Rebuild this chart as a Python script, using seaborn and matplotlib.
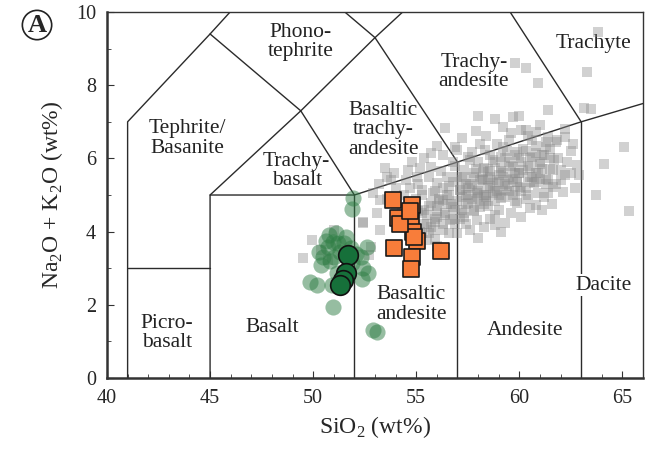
import numpy as np
import pandas as pd
import seaborn as sns
import matplotlib.pyplot as plt

# gray field samples (literature compilation)
gray_x = [63.8, 63.3, 59.8, 60.3, 60.9, 61.4, 63.15, 63.5, 58.0, 58.8, 59.7, 60.0, 56.4, 65.1, 64.1, 63.7, 65.3,
          60.3, 60.8, 61.8, 62.2, 61.3, 61.4, 61.85, 60.1,
          57.0, 57.7, 58.35, 55.7, 56.3, 59.2, 59.9, 60.5, 59.1, 58.6,
          62.8, 62.9, 62.2, 62.7, 62.1, 61.1, 60.8, 59.9, 59.3, 58.8, 58.8, 58.3, 61.65, 61.4, 60.7, 60.9, 61.65,
          60.2, 59.7, 59.4, 58.7, 60.05, 58.25, 58.4, 59.1, 59.7, 60.4, 62.0, 62.5,
          53.5, 53.6, 54.6, 55.2, 55.7, 54.7, 55.3, 56.0, 56.5, 57.3, 57.8, 58.25, 57.1, 57.96, 55.7, 56.3, 56.8,
          57.5, 58.1, 55.3, 56.0, 56.65, 57.3, 57.96, 55.7, 56.3, 57.0, 57.6, 53.25, 53.1, 52.4, 55.5, 58.0, 55.05,
          52.4, 51.0, 49.95, 49.5, 50.7, 52.8, 52.7, 53.25, 50.4,
          58.5, 59.0, 59.5, 60.0, 60.5, 58.0, 57.5, 58.8, 59.3, 60.2, 61.0, 61.2, 57.0, 56.5, 56.0, 57.2, 58.5,
          59.6, 60.3, 61.5, 54.0, 54.4, 55.0, 55.6, 56.8, 57.6, 58.9, 59.5, 60.6, 54.3, 55.5, 56.9, 53.8, 61.9,
          62.5, 61.0,
          55.2, 55.9, 56.4, 57.1, 57.8, 58.4, 59.0, 59.8, 60.5, 61.2, 61.8,
          55.4, 56.1, 56.7, 57.4, 58.0, 58.6, 59.2, 59.9, 60.6, 61.3, 62.0,
          55.1, 55.9, 56.6, 57.2, 57.9, 58.5, 59.1, 59.8, 60.4, 61.1, 61.7,
          54.8, 55.4, 56.2, 56.9, 57.5, 58.1, 58.7, 59.4, 60.0, 60.8, 61.5,
          56.0, 57.2, 58.4, 59.6, 60.4,
          55.9, 56.6, 57.4, 58.6, 59.1, 60.1, 61.6,
          53.6, 54.0, 54.5, 55.1, 53.9, 52.9, 53.2, 55.6, 56.0,
          57.7, 58.3, 58.9, 59.5, 60.1, 60.8, 61.4, 62.3, 62.6, 62.2, 61.0, 59.2, 57.9, 56.9,
          55.3, 55.8, 56.3, 56.8, 57.3, 57.8, 58.3, 58.8, 59.3, 59.8, 60.3, 60.8, 61.3,
          55.5, 56.0, 56.5, 57.0, 57.5, 58.0, 58.5, 59.0, 59.5, 60.0, 60.5, 61.0, 61.5,
          55.3, 55.8, 56.3, 56.8, 57.3, 57.8, 58.3, 58.8, 59.3, 59.8, 60.3, 60.8, 61.3,
          55.6, 56.1, 56.6, 57.1, 57.6, 58.1, 58.6, 59.1, 59.6, 60.1, 60.6, 61.1,
          55.4, 55.9, 56.4, 56.9, 57.4, 57.9, 58.4, 58.9, 59.4, 59.9, 60.4, 60.9,
          57.2, 57.7, 58.2, 58.7, 59.2, 59.7, 58.0, 58.6, 59.0, 57.4]
gray_y = [9.45, 8.36, 8.6, 8.47, 8.06, 7.32, 7.38, 7.35, 7.16, 7.08, 7.13, 7.16, 6.83, 6.3, 5.85, 5.0, 4.56,
          6.78, 6.72, 6.45, 6.58, 6.3, 6.58, 6.5, 6.78,
          6.23, 6.17, 6.23, 6.15, 6.09, 6.31, 6.17, 6.01, 6.04, 6.09,
          5.82, 5.55, 5.55, 5.19, 5.08, 4.59, 4.73, 4.78, 4.23, 4.18, 4.45, 4.13, 5.68, 5.41, 5.33, 5.05, 5.22,
          5.68, 5.77, 5.41, 5.33, 5.22, 5.41, 4.95, 4.92, 5.0, 5.0, 5.68, 5.6,
          5.74, 5.49, 5.68, 5.74, 5.77, 5.19, 5.14, 5.33, 5.49, 5.68, 5.49, 5.63, 5.14, 5.05, 4.78, 4.86, 4.67,
          4.78, 4.67, 4.51, 4.4, 4.32, 4.4, 4.32, 4.13, 4.04, 3.96, 4.04, 4.86, 4.51, 4.23, 3.77, 3.83, 5.49,
          4.26, 4.04, 3.77, 3.28, 3.22, 3.58, 3.36, 4.04, 3.5,
          5.7, 5.55, 5.9, 5.6, 5.35, 5.9, 5.2, 5.1, 5.3, 6.25, 5.9, 6.1, 5.5, 5.0, 4.7, 4.6, 4.7,
          4.5, 4.9, 5.7, 5.2, 5.0, 4.9, 5.5, 5.9, 5.95, 6.4, 6.5, 6.5, 4.6, 4.2, 4.2, 5.4, 6.0,
          6.2, 5.45,
          4.0, 4.25, 4.5, 4.35, 4.55, 4.85, 4.6, 4.85, 4.65, 4.95, 5.3,
          4.6, 4.9, 4.75, 5.0, 5.15, 5.25, 5.15, 5.35, 5.5, 5.3, 5.4,
          5.3, 5.1, 5.25, 5.4, 5.7, 5.45, 5.75, 5.6, 5.8, 5.7, 5.95,
          5.9, 6.0, 5.65, 5.8, 6.05, 6.4, 5.95, 6.2, 6.0, 6.15, 6.25,
          6.35, 6.55, 6.6, 6.7, 6.6,
          3.8, 3.95, 4.2, 4.35, 4.0, 4.4, 4.75,
          4.9, 4.7, 5.4, 4.55, 5.6, 5.05, 5.3, 3.95, 3.6,
          4.9, 5.0, 5.4, 5.1, 5.1, 5.6, 5.05, 5.9, 6.4, 6.8, 6.9, 6.85, 6.75, 6.3,
          3.95, 4.05, 4.2, 4.35, 4.5, 4.6, 4.75, 4.85, 4.95, 5.1, 5.2, 5.35, 5.45,
          4.45, 4.55, 4.75, 4.85, 5.0, 5.1, 5.2, 5.35, 5.5, 5.6, 5.75, 5.85, 6.0,
          5.0, 5.05, 5.2, 5.35, 5.5, 5.6, 5.75, 5.9, 6.0, 6.1, 6.2, 6.35, 6.45,
          4.7, 4.85, 5.0, 5.15, 5.25, 5.4, 5.5, 5.65, 5.8, 5.9, 6.05, 6.1,
          4.2, 4.35, 4.45, 4.6, 4.75, 4.85, 5.0, 5.1, 5.25, 5.35, 5.5, 5.6,
          4.95, 5.3, 5.45, 5.05, 5.6, 5.45, 4.95, 5.65, 5.0, 5.3]

green_x = [51.94, 51.9, 50.97, 50.7, 51.2, 50.5, 52.6, 52.4, 52.67, 49.85, 50.2, 50.97, 52.9, 53.1,
           51.16, 50.8, 51.6, 51.9, 51.3, 52.1, 50.9,
           50.6, 50.3, 51.0, 50.4, 51.5, 51.1, 50.75, 52.3, 52.35, 51.85]
green_y = [4.92, 4.62, 3.72, 3.58, 3.69, 3.31, 3.58, 3.0, 2.87, 2.62, 2.54, 1.94, 1.31, 1.27,
           2.87, 3.2, 3.85, 3.14, 3.45, 3.4, 2.55,
           3.75, 3.45, 3.3, 3.1, 3.7, 3.95, 3.9, 3.3, 2.7, 3.55]

dark_x = [51.7, 51.6, 51.46, 51.3]
dark_y = [3.36, 2.87, 2.68, 2.54]

orange_x = [53.85, 54.8, 54.1, 54.76, 54.86, 55.06, 53.9, 56.2, 54.8, 54.76, 54.9, 54.2, 54.7]
orange_y = [4.86, 4.73, 4.37, 4.3, 3.99, 3.74, 3.55, 3.47, 3.3, 2.98, 3.85, 4.2, 4.55]

# TAS field boundaries (Le Bas et al., 1986)
tas_lines = [
    [(41, 0), (41, 7), (45, 9.4), (48.4, 11.5)],
    [(41, 3), (45, 3)],
    [(45, 0), (45, 5), (52, 5), (57, 5.9), (63, 7), (69, 8)],
    [(52, 0), (52, 5)],
    [(57, 0), (57, 5.9)],
    [(63, 0), (63, 7)],
    [(45, 5), (49.4, 7.3), (52, 5)],
    [(45, 9.4), (49.4, 7.3), (53, 9.3), (57, 5.9)],
    [(48.4, 11.5), (53, 9.3), (57.6, 11.7)],
    [(57.6, 11.7), (63, 7)],
]

field_names = ['Phono-\ntephrite', 'Tephrite/\nBasanite', 'Trachy-\nbasalt', 'Basaltic\ntrachy-\nandesite',
               'Trachy-\nandesite', 'Trachyte', 'Picro-\nbasalt', 'Basalt', 'Basaltic\nandesite',
               'Andesite', 'Dacite']
field_x = [49.4, 43.9, 49.2, 53.4, 57.8, 63.6, 42.9, 48.0, 54.75, 60.3, 64.1]
field_y = [9.18, 6.55, 5.66, 6.78, 8.36, 9.15, 1.23, 1.37, 2.0, 1.31, 2.54]

sns.set_style('ticks')
plt.rcParams['font.family'] = ['Liberation Serif', 'DejaVu Serif']
plt.rcParams['mathtext.fontset'] = 'custom'
plt.rcParams['mathtext.rm'] = 'Liberation Serif'

fig = plt.figure(figsize=(6.54, 4.55), dpi=100)
ax = fig.add_axes([0.1636, 0.1692, 0.8196, 0.8044])

for seg in tas_lines:
    xs, ys = zip(*seg)
    ax.plot(xs, ys, color='#2b2b2b', lw=1.0, zorder=1)

for name, fx, fy in zip(field_names, field_x, field_y):
    kw = {}
    if name == 'Dacite':
        kw['bbox'] = dict(fc='white', ec='none', pad=1)
    ax.text(fx, fy, name, ha='center', va='center', fontsize=15.5, color='#222222',
            linespacing=1.05, zorder=2, **kw)

sns.scatterplot(x=gray_x, y=gray_y, marker='s', s=62, color='#8c8c8c', alpha=0.4,
                linewidth=0, ax=ax, zorder=3)
sns.scatterplot(x=green_x, y=green_y, marker='o', s=135, color='#2e7d44', alpha=0.5,
                linewidth=0, ax=ax, zorder=4)
sns.scatterplot(x=dark_x, y=dark_y, marker='o', s=200, color='#16703a', edgecolor='#111111',
                linewidth=1.2, ax=ax, zorder=5)
sns.scatterplot(x=orange_x, y=orange_y, marker='s', s=120, color='#f87d3a', edgecolor='#1a1a1a',
                linewidth=1.2, ax=ax, zorder=6)

ax.set_xlim(40, 66)
ax.set_ylim(0, 10)
ax.set_xticks(range(40, 66, 5))
ax.set_xticks(range(40, 67), minor=True)
ax.set_yticks(range(0, 11, 2))
ax.set_yticks(range(0, 11), minor=True)
ax.tick_params(which='both', direction='in', top=False, right=False, color='#333333')
ax.tick_params(which='major', length=5, labelsize=14.5, pad=8)
ax.tick_params(which='minor', length=3)
for sp in ax.spines.values():
    sp.set_color('#333333')
    sp.set_linewidth(1.0)
ax.spines['bottom'].set_linewidth(1.8)
ax.spines['left'].set_linewidth(1.8)

ax.set_xlabel('SiO$_2$ (wt%)', fontsize=17, labelpad=4)
ax.set_ylabel('Na$_2$O + K$_2$O (wt%)', fontsize=17, labelpad=8)

fig.text(0.0566, 0.945, 'A', fontsize=19, fontweight='bold', ha='center', va='center',
         bbox=dict(boxstyle='circle,pad=0.12', fc='white', ec='#222222', lw=1.2))

fig.savefig('out.png', dpi=100)
